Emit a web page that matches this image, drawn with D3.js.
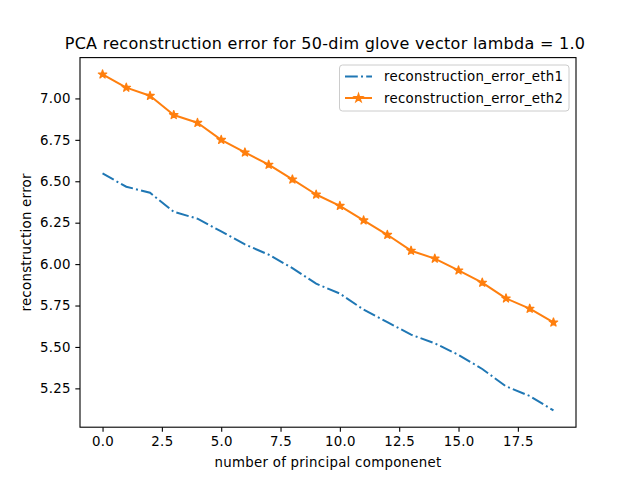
<!DOCTYPE html>
<html><head><meta charset="utf-8">
<script src="https://cdn.jsdelivr.net/npm/d3@7"></script>
<style>body{margin:0;background:#fff}svg{display:block;font-family:"DejaVu Sans",sans-serif}text{letter-spacing:0.28px}</style>
</head><body>
<svg id="c" width="640" height="480"></svg>
<script>
const components = d3.range(20);
const eth1 = [6.547,6.467,6.431,6.316,6.274,6.197,6.119,6.057,5.976,5.882,5.822,5.725,5.650,5.574,5.522,5.452,5.367,5.262,5.204,5.117];
const eth2 = [7.145,7.065,7.016,6.900,6.853,6.750,6.674,6.600,6.511,6.420,6.352,6.264,6.177,6.081,6.033,5.962,5.888,5.793,5.731,5.648];
const xTicks = [0,2.5,5,7.5,10,12.5,15,17.5];
const yTicks = [5.25,5.5,5.75,6.0,6.25,6.5,6.75,7.0];
const seriesNames = ["reconstruction_error_eth1","reconstruction_error_eth2"];
const colors = ["#1f77b4","#ff7f0e"];

const svg = d3.select("#c");
const L=80,R=576,T=57.6,B=427.2;
const all = eth1.concat(eth2);
const ymin=d3.min(all), ymax=d3.max(all), yr=ymax-ymin;
const x = d3.scaleLinear().domain([-0.95,19.95]).range([L,R]);
const y = d3.scaleLinear().domain([ymin-0.05*yr, ymax+0.05*yr]).range([B,T]);

const xa = svg.append("g").attr("transform",`translate(0,${B})`)
  .call(d3.axisBottom(x).tickValues(xTicks).tickFormat(d3.format(".1f")).tickSize(4.67).tickPadding(4.67));
const ya = svg.append("g").attr("transform",`translate(${L},0)`)
  .call(d3.axisLeft(y).tickValues(yTicks).tickFormat(d3.format(".2f")).tickSize(4.67).tickPadding(4.67));
[xa,ya].forEach(a=>{a.select(".domain").remove();a.selectAll("text").attr("font-size","13.33px").attr("fill","#000").attr("font-family","DejaVu Sans");a.selectAll("line").attr("stroke","#000").attr("stroke-width",1.1);});

const line = d3.line().x((d,i)=>x(components[i])).y(d=>y(d));
svg.append("path").datum(eth1).attr("d",line).attr("fill","none").attr("stroke",colors[0])
  .attr("stroke-width",2).attr("stroke-dasharray","12.8,3.2,2,3.2");
svg.append("path").datum(eth2).attr("d",line).attr("fill","none").attr("stroke",colors[1])
  .attr("stroke-width",2).attr("stroke-linejoin","round");
const star = d3.symbol().type(d3.symbolStar).size(22);
svg.append("g").selectAll("path").data(eth2).join("path")
  .attr("transform",(d,i)=>`translate(${x(components[i])},${y(d)})`)
  .attr("d",star).attr("fill",colors[1]).attr("stroke",colors[1]).attr("stroke-width",1.3).attr("stroke-linejoin","round");

svg.append("rect").attr("x",L).attr("y",T).attr("width",R-L).attr("height",B-T)
  .attr("fill","none").attr("stroke","#000").attr("stroke-width",1.1);

svg.append("text").attr("x",325).attr("y",T-8.5).attr("text-anchor","middle").attr("font-size","16px")
  .attr("letter-spacing","0.33px")
  .text("PCA reconstruction error for 50-dim glove vector lambda = 1.0");
svg.append("text").attr("x",(L+R)/2).attr("y",467).attr("text-anchor","middle").attr("font-size","13.33px")
  .text("number of principal componenet");
svg.append("text").attr("transform",`translate(31,${(T+B)/2}) rotate(-90)`).attr("text-anchor","middle").attr("font-size","13.33px")
  .text("reconstruction error");

// legend
const lg = svg.append("g");
lg.append("rect").attr("x",339.5).attr("y",65).attr("width",229.5).attr("height",46).attr("rx",3)
  .attr("fill","#fff").attr("fill-opacity",0.8).attr("stroke","#ccc").attr("stroke-width",1);
seriesNames.forEach((n,i)=>{
  const cy = 76.5 + i*21.5;
  const ln = lg.append("line").attr("x1",345).attr("x2",372).attr("y1",cy).attr("y2",cy)
    .attr("stroke",colors[i]).attr("stroke-width",2);
  if(i===0) ln.attr("stroke-dasharray","12.8,3.2,2,3.2");
  else lg.append("path").attr("transform",`translate(358.5,${cy})`).attr("d",star)
    .attr("fill",colors[1]).attr("stroke",colors[1]).attr("stroke-width",1.3);
  lg.append("text").attr("x",384).attr("y",cy+4.7).attr("font-size","13.33px").text(n);
});
</script>
</body></html>
